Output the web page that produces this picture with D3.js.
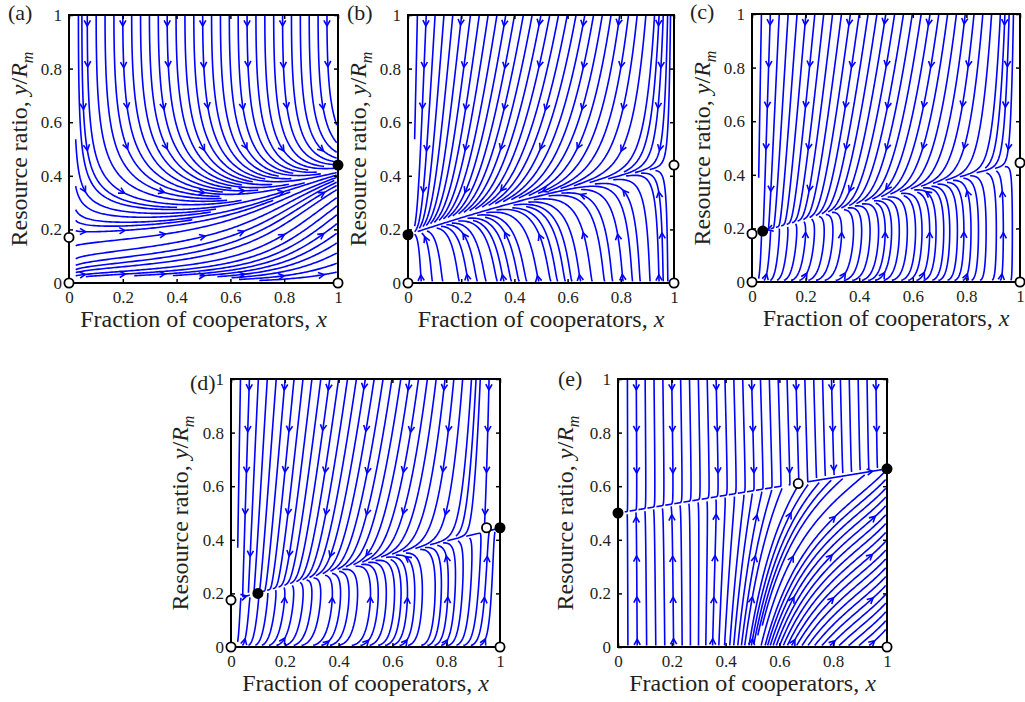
<!DOCTYPE html>
<html>
<head>
<meta charset="utf-8">
<script src="https://cdn.jsdelivr.net/npm/d3@7"></script>
<style>
  body { margin: 0; background: #fff; }
  svg { display: block; }
</style>
</head>
<body>
<script>
// panel letters and shared axis ticks
const panelLabels = ["(a)", "(b)", "(c)", "(d)", "(e)"];
const tickValues = [0, 0.2, 0.4, 0.6, 0.8, 1];
const tickLabels = ["0", "0.2", "0.4", "0.6", "0.8", "1"];

// resource nullcline (y/Rm) read at x = 0 and x = 1 for each panel
const nullLeft = [0.17, 0.18, 0.18, 0.175, 0.50];
const nullRight = [0.44, 0.44, 0.445, 0.445, 0.665];

// fixed points per panel: [x, y, stable(1) / unstable(0)]
const fixedA = [[0, 0, 0], [1, 0, 0], [0, 0.17, 0], [1, 0.44, 1]];
const fixedB = [[0, 0, 0], [1, 0, 0], [0, 0.18, 1], [1, 0.44, 0]];
const fixedC = [[0, 0, 0], [1, 0, 0], [0, 0.18, 0], [0.04, 0.19, 1], [1, 0.445, 0]];
const fixedD = [[0, 0, 0], [1, 0, 0], [0, 0.175, 0], [0.1, 0.2, 1], [0.95, 0.445, 0], [1, 0.445, 1]];
const fixedE = [[1, 0, 0], [0, 0.5, 1], [0.67, 0.61, 0], [1, 0.665, 1]];
const fixedPoints = [fixedA, fixedB, fixedC, fixedD, fixedE];

// plot frames (pixels)
const frames = [
  { l: 69, r: 338, t: 15, b: 283, labX: -61, labY: 5, ylab: -42 },
  { l: 408, r: 674, t: 15, b: 283, labX: -61, labY: 5, ylab: -42 },
  { l: 752, r: 1020, t: 14, b: 282, labX: -62, labY: 5, ylab: -42 },
  { l: 231, r: 500, t: 379, b: 647, labX: -41, labY: 11, ylab: -43 },
  { l: 618, r: 887, t: 379, b: 647, labX: -60, labY: 7, ylab: -45 }
];

const serif = "'Liberation Serif', 'Times New Roman', Times, serif";
const textColor = "#231f20";
const blue = "#0000ff";

// cooperator dynamics (x) and logistic resource with cooperation-dependent harvest (y)
function field(p, x, y) {
  const K = nullLeft[p] + (nullRight[p] - nullLeft[p]) * x;
  const dy = y * (K - y);
  if (p === 0) return [x * (1 - y) * (0.08 + 0.8 * Math.pow(1 - x, 2.5)), dy];
  if (p === 1) return [-x * (1 - x) * 0.4 * (y + 0.02) * (y + 0.3), dy];
  if (p === 2) return [x * (1 - x) * 0.4 * (0.19 - y) * (y + 0.3), dy];
  if (p === 3) return [x * (1 - x) * (0.4 * (0.2 - y) * (y + 0.3) + 0.137 * Math.pow(x, 12)), dy];
  const g = 11 * (Math.pow(x, 4) + 0.004) * y * Math.max(0, K - y) + 0.06 * (y - 0.61) * y / 0.6;
  return [x * (1.08 - x) * g, dy];
}

function streamlines(p, W, H) {
  const cell = 3, dsep = 6, dtest = 2.2;
  const grid = new Map();
  const key = (i, j) => i * 10000 + j;
  const fps = fixedPoints[p];
  const xmin = 0.025, xmax = 0.995, ymin = 0.006, ymax = 1.0;

  function near(px, py, r) {
    const i0 = Math.floor((px - r) / cell), i1 = Math.floor((px + r) / cell);
    const j0 = Math.floor((py - r) / cell), j1 = Math.floor((py + r) / cell);
    for (let i = i0; i <= i1; i++) for (let j = j0; j <= j1; j++) {
      const c = grid.get(key(i, j));
      if (!c) continue;
      for (const q of c) if (Math.hypot(q[0] - px, q[1] - py) < r) return q;
    }
    return null;
  }
  function add(px, py, line, idx) {
    const k = key(Math.floor(px / cell), Math.floor(py / cell));
    if (!grid.has(k)) grid.set(k, []);
    grid.get(k).push([px, py, line, idx]);
  }
  const f = (x, y) => field(p, x, y);
  function rk4(x, y, dt) {
    const k1 = f(x, y);
    const k2 = f(x + dt / 2 * k1[0], y + dt / 2 * k1[1]);
    const k3 = f(x + dt / 2 * k2[0], y + dt / 2 * k2[1]);
    const k4 = f(x + dt * k3[0], y + dt * k3[1]);
    return [x + dt / 6 * (k1[0] + 2 * k2[0] + 2 * k3[0] + k4[0]),
            y + dt / 6 * (k1[1] + 2 * k2[1] + 2 * k3[1] + k4[1])];
  }
  function trace(x, y, s) {
    const pts = [];
    let stall = 0;
    for (let n = 0; n < 6000; n++) {
      const v = f(x, y);
      const sp = Math.hypot(v[0] * W, v[1] * H);
      if (sp < 1e-12) break;
      const dt = s * Math.min(1 / sp, 1.2);
      let [nx, ny] = rk4(x, y, dt);
      let out = false;
      if (nx < xmin || nx > xmax || ny < ymin || ny > ymax) {
        out = true;
        nx = Math.max(xmin, Math.min(xmax, nx));
        ny = Math.max(ymin, Math.min(ymax, ny));
      }
      const moved = Math.hypot((nx - x) * W, (ny - y) * H);
      stall = moved < 0.03 ? stall + 1 : 0;
      if (stall > 40) break;
      if (fps.some(fp => Math.hypot((fp[0] - nx) * W, (fp[1] - ny) * H) < 3)) break;
      if (near(nx * W, ny * H, dtest)) break;
      pts.push([nx, ny]);
      x = nx; y = ny;
      if (out) break;
    }
    return pts;
  }

  const lines = [];
  for (let gy = 0.985; gy > 0.01; gy -= 0.033) {
    for (let gx = 0.035; gx < 0.99; gx += 0.033) {
      if (near(gx * W, gy * H, dsep)) continue;
      const back = trace(gx, gy, -1).reverse();
      const fwd = trace(gx, gy, 1);
      const pts = back.concat([[gx, gy]], fwd);
      let len = 0;
      for (let i = 1; i < pts.length; i++) len += Math.hypot((pts[i][0] - pts[i - 1][0]) * W, (pts[i][1] - pts[i - 1][1]) * H);
      if (len < 8) continue;
      const id = lines.length;
      pts.forEach((q, i) => add(q[0] * W, q[1] * H, id, i));
      lines.push(pts);
    }
  }

  // arrowheads at a coarse grid, on the nearest streamline point
  const arrows = [];
  for (let ay = 0.96; ay > 0.0; ay -= 0.155) {
    for (let ax = 0.06; ax < 1.0; ax += 0.148) {
      let best = null, bd = 8;
      const i0 = Math.floor((ax * W - 8) / cell), i1 = Math.floor((ax * W + 8) / cell);
      const j0 = Math.floor((ay * H - 8) / cell), j1 = Math.floor((ay * H + 8) / cell);
      for (let i = i0; i <= i1; i++) for (let j = j0; j <= j1; j++) {
        const c = grid.get(key(i, j));
        if (!c) continue;
        for (const q of c) {
          const d = Math.hypot(q[0] - ax * W, q[1] - ay * H);
          const L = lines[q[2]];
          if (d < bd && q[3] > 4 && q[3] < L.length - 5) { bd = d; best = q; }
        }
      }
      if (best) {
        const L = lines[best[2]];
        arrows.push({ at: L[best[3]], from: L[best[3] - 3] });
      }
    }
  }
  return { lines, arrows };
}

const svg = d3.select("body").append("svg")
  .attr("width", 1025)
  .attr("height", 702)
  .attr("viewBox", [0, 0, 1025, 702]);

frames.forEach((fr, p) => {
  const x = d3.scaleLinear().domain([0, 1]).range([fr.l, fr.r]);
  const y = d3.scaleLinear().domain([0, 1]).range([fr.b, fr.t]);
  const W = fr.r - fr.l, H = fr.b - fr.t;
  const g = svg.append("g");

  const clipId = "clip" + p;
  g.append("clipPath").attr("id", clipId)
    .append("rect").attr("x", fr.l).attr("y", fr.t).attr("width", W).attr("height", H);

  const { lines, arrows } = streamlines(p, W, H);
  const line = d3.line()
    .x(d => x(d[0]))
    .y(d => y(d[1]));

  const flow = g.append("g").attr("clip-path", `url(#${clipId})`);
  flow.selectAll("path.stream")
    .data(lines)
    .join("path")
    .attr("class", "stream")
    .attr("fill", "none")
    .attr("stroke", blue)
    .attr("stroke-width", 1.6)
    .attr("stroke-linejoin", "round")
    .attr("d", d => line(d.filter((q, i) => i % 2 === 0 || i === d.length - 1)));

  flow.selectAll("path.arrow")
    .data(arrows)
    .join("path")
    .attr("class", "arrow")
    .attr("fill", "none")
    .attr("stroke", blue)
    .attr("stroke-width", 1.6)
    .attr("stroke-linejoin", "round")
    .attr("d", a => {
      const tx = x(a.at[0]), ty = y(a.at[1]);
      let dx = tx - x(a.from[0]), dy = ty - y(a.from[1]);
      const n = Math.hypot(dx, dy) || 1;
      dx /= n; dy /= n;
      const L = 6.5, ang = 0.5;
      const c = Math.cos(ang), s = Math.sin(ang);
      const ax1 = tx - L * (dx * c - dy * s), ay1 = ty - L * (dx * s + dy * c);
      const ax2 = tx - L * (dx * c + dy * s), ay2 = ty - L * (-dx * s + dy * c);
      return `M${ax1},${ay1}L${tx},${ty}L${ax2},${ay2}`;
    });

  // axes with inward ticks on all four sides
  const fmt = d => tickLabels[tickValues.indexOf(d)];
  const styleAxis = sel => {
    sel.select(".domain").remove();
    sel.selectAll(".tick line").attr("stroke", "#000").attr("stroke-width", 1.5);
    sel.selectAll("text").attr("fill", textColor)
      .attr("font-family", serif).attr("font-size", 17);
  };
  g.append("g").attr("transform", `translate(0,${fr.b})`)
    .call(d3.axisBottom(x).tickValues(tickValues).tickFormat(fmt).tickSize(-4).tickPadding(8))
    .call(styleAxis);
  g.append("g").attr("transform", `translate(${fr.l},0)`)
    .call(d3.axisLeft(y).tickValues(tickValues).tickFormat(fmt).tickSize(-4).tickPadding(7))
    .call(styleAxis);
  g.append("g").attr("transform", `translate(0,${fr.t})`)
    .call(d3.axisTop(x).tickValues(tickValues).tickFormat("").tickSize(-4))
    .call(styleAxis);
  g.append("g").attr("transform", `translate(${fr.r},0)`)
    .call(d3.axisRight(y).tickValues(tickValues).tickFormat("").tickSize(-4))
    .call(styleAxis);

  g.append("rect")
    .attr("x", fr.l).attr("y", fr.t).attr("width", W).attr("height", H)
    .attr("fill", "none").attr("stroke", "#000").attr("stroke-width", 2);

  // fixed points
  g.selectAll("circle.fp")
    .data(fixedPoints[p])
    .join("circle")
    .attr("class", "fp")
    .attr("cx", d => x(d[0]))
    .attr("cy", d => y(d[1]))
    .attr("r", 4.6)
    .attr("fill", d => d[2] ? "#000" : "#fff")
    .attr("stroke", "#000")
    .attr("stroke-width", 1.8);

  // panel letter
  g.append("text")
    .attr("x", fr.l + fr.labX).attr("y", fr.t + fr.labY)
    .attr("font-family", serif).attr("font-size", 22).attr("fill", textColor)
    .text(panelLabels[p]);

  // x-axis title
  const xt = g.append("text")
    .attr("x", (fr.l + fr.r) / 2).attr("y", fr.b + 44)
    .attr("text-anchor", "middle")
    .attr("font-family", serif).attr("font-size", 24).attr("fill", textColor);
  xt.append("tspan").text("Fraction of cooperators, ");
  xt.append("tspan").attr("font-style", "italic").text("x");

  // y-axis title
  const yt = g.append("text")
    .attr("transform", `translate(${fr.l + fr.ylab},${(fr.t + fr.b) / 2}) rotate(-90)`)
    .attr("text-anchor", "middle")
    .attr("font-family", serif).attr("font-size", 24).attr("fill", textColor);
  yt.append("tspan").text("Resource ratio, ");
  yt.append("tspan").attr("font-style", "italic").text("y");
  yt.append("tspan").text("/");
  yt.append("tspan").attr("font-style", "italic").text("R");
  yt.append("tspan").attr("font-style", "italic").attr("font-size", 16).attr("dy", 6).text("m");
});
</script>
</body>
</html>
